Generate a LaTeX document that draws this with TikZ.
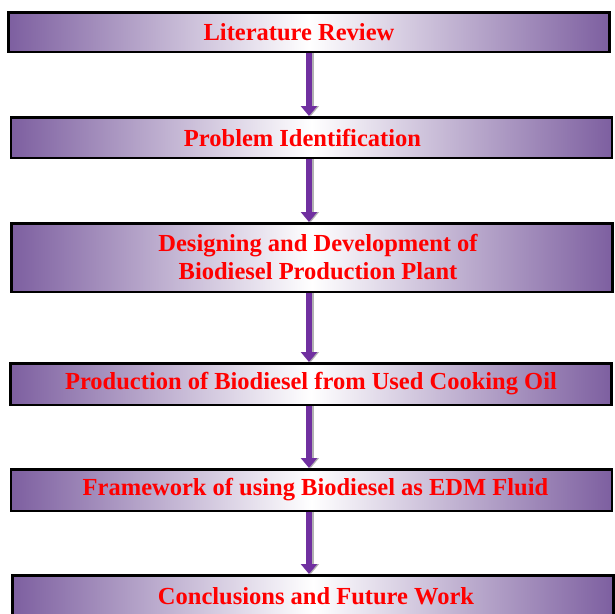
\documentclass[tikz,border=0pt]{standalone}
\usepackage{fontspec}
\setmainfont{Liberation Serif}
\usetikzlibrary{positioning,arrows.meta}
\definecolor{stageedge}{RGB}{125,95,160}
\definecolor{flowpurple}{RGB}{112,48,160}
\tikzset{
x=1pt, y=1pt,
stage/.style={draw=black, line width=2.5pt, minimum width=601pt, minimum height=41.5pt,
  left color=stageedge, right color=stageedge, middle color=white,
  text=red, font=\fontsize{24.5}{28}\selectfont\bfseries, align=center, inner sep=0pt},
flow/.style={draw=flowpurple, line width=6.5pt, -{Triangle[width=16pt,length=10pt]}},
flowshadow/.style={draw=gray!60, line width=6.5pt, -{Triangle[width=16pt,length=10pt]},
  transform canvas={xshift=1.8pt}},
node distance=62pt,
}

\begin{document}
\begin{tikzpicture}
        \useasboundingbox (0,0) rectangle (614,-614);

        \node[stage,minimum height=39.5pt] (lit) at (309,-32) {\hspace*{-20pt}Literature Review};
        \node[stage,below=63pt of lit,minimum height=40.5pt,xshift=2.5pt] (prob) {\hspace*{-18pt}Problem Identification};
        \node[stage,below=63pt of prob,minimum height=68.5pt,xshift=0.5pt] (plant) {\hspace*{12pt}Designing and Development of\\\hspace*{12pt}Biodiesel Production Plant};
        \node[stage,below=69pt of plant,xshift=-1pt] (prod) {Production of Biodiesel from Used Cooking Oil};
        \node[stage,below=of prod,xshift=0.5pt] (edm) {\hspace*{8pt}Framework of using Biodiesel as EDM Fluid};
        \node[stage,below=of edm,xshift=1.5pt] (concl) {\hspace*{6pt}Conclusions and Future Work};

        % gray shadow first, purple arrow on top
        \foreach \a/\b in {lit/prob,prob/plant,plant/prod,prod/edm,edm/concl} {
            \draw[flowshadow] (lit.south |- \a.south) -- (lit.south |- \b.north);
            \draw[flow] (lit.south |- \a.south) -- (lit.south |- \b.north);
        }
\end{tikzpicture}
\end{document}
